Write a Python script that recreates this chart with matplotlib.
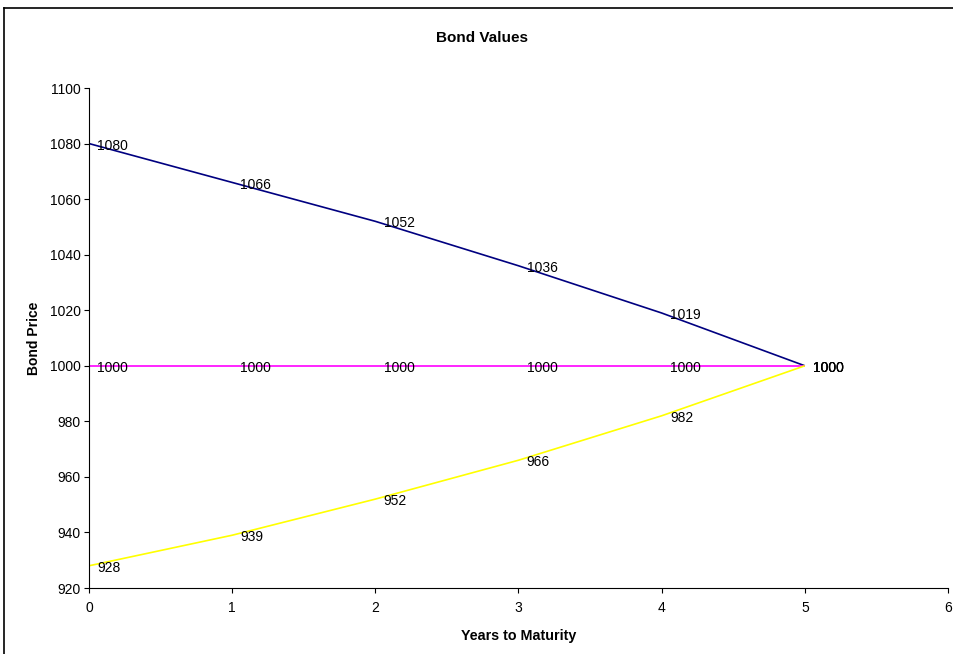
import matplotlib
matplotlib.use("Agg")
import matplotlib.pyplot as plt
from matplotlib.lines import Line2D

plt.rcParams['font.family'] = ['Liberation Sans', 'DejaVu Sans']

years = [0, 1, 2, 3, 4, 5]
premium = [1080, 1066, 1052, 1036, 1019, 1000]
par = [1000, 1000, 1000, 1000, 1000, 1000]
discount = [928, 939, 952, 966, 982, 1000]

series = [
    (premium, '#000080'),
    (par, '#FF00FF'),
    (discount, '#FFFF00'),
]

fig = plt.figure(figsize=(9.54, 6.54), dpi=100)
ax = fig.add_axes([89/954, 1-588/654, (948-89)/954, (588-88)/654])

for vals, col in series:
    ax.plot(years, vals, color=col, lw=1.2, solid_capstyle='butt', zorder=2)
    for x, v in zip(years, vals):
        ax.annotate(str(v), (x, v), xytext=(6.0, -1.5), textcoords='offset points',
                    ha='left', va='center', fontsize=10, color='black', zorder=3)

ax.set_xlim(0, 6)
ax.set_ylim(920, 1100)
ax.set_xticks(range(0, 7))
ax.set_yticks(range(920, 1101, 20))
ax.tick_params(direction='out', length=3.6, width=0.8, labelsize=10, color='black')
ax.tick_params(axis='x', pad=6)
ax.tick_params(axis='y', pad=2.5)
for s in ['top', 'right']:
    ax.spines[s].set_visible(False)
for s in ['left', 'bottom']:
    ax.spines[s].set_color('black')
    ax.spines[s].set_linewidth(0.8)

ax.set_xlabel('Years to Maturity', fontsize=10.3, fontweight='bold', labelpad=10)
ax.set_ylabel('Bond Price', fontsize=10, fontweight='bold', labelpad=6)
fig.text(482/954, 1-38/654, 'Bond Values', ha='center', va='center', fontsize=11, fontweight='bold')

# outer chart frame (partially visible)
fig.add_artist(Line2D([4/954, 1.0], [1-8/654, 1-8/654], color='black', lw=1.2, transform=fig.transFigure))
fig.add_artist(Line2D([4/954, 4/954], [0.0, 1-8/654], color='black', lw=1.2, transform=fig.transFigure))

fig.savefig('out.png', dpi=100)
